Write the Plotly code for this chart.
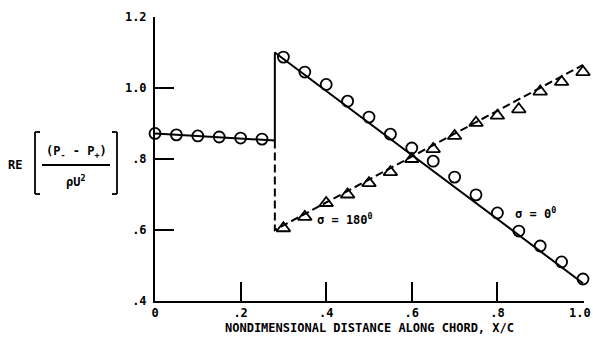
import plotly.graph_objects as go

# ---- data ----
circle_x = [0.0, 0.05, 0.10, 0.15, 0.20, 0.25,
            0.30, 0.35, 0.40, 0.45, 0.50, 0.55, 0.60, 0.65, 0.70, 0.75, 0.80, 0.85, 0.90, 0.95, 1.00]
circle_y = [0.872, 0.868, 0.865, 0.862, 0.859, 0.856,
            1.087, 1.045, 1.010, 0.963, 0.918, 0.870, 0.831, 0.794, 0.749, 0.699, 0.648, 0.597, 0.555, 0.510, 0.462]

tri_x = [0.30, 0.35, 0.40, 0.45, 0.50, 0.55, 0.60, 0.65, 0.70, 0.75, 0.80, 0.85, 0.90, 0.95, 1.00]
tri_y = [0.605, 0.637, 0.676, 0.700, 0.732, 0.763, 0.800, 0.828, 0.865, 0.902, 0.922, 0.940, 0.990, 1.017, 1.045]

solid_x = [0.0, 0.28, 0.28, 1.0]
solid_y = [0.872, 0.852, 1.100, 0.450]

dash_x = [0.28, 0.28, 1.0]
dash_y = [0.852, 0.600, 1.065]

x_ticks = [0, 0.2, 0.4, 0.6, 0.8, 1.0]
x_ticktext = ["0", ".2", ".4", ".6", ".8", "1.0"]
y_ticks = [0.4, 0.6, 0.8, 1.0, 1.2]
y_ticktext = [".4", ".6", ".8", "1.0", "1.2"]

FONT = "DejaVu Sans Mono"
W, H = 593, 345
L, R, T, B = 155, 9, 17, 44
PW, PH = W - L - R, H - T - B
X_MAX = 1.0 + 1.0 / 428  # one pixel past 1.0 so the 1.0 tick is kept


def px(x):  # page pixel -> paper
    return (x - L) / PW


def py(y):
    return (H - B - y) / PH


def bold(s):
    return "<b>" + s + "</b>"


fig = go.Figure()
fig.add_trace(go.Scatter(x=solid_x, y=solid_y, mode="lines",
                         line=dict(color="black", width=2), showlegend=False, hoverinfo="skip"))
fig.add_trace(go.Scatter(x=dash_x, y=dash_y, mode="lines",
                         line=dict(color="black", width=2, dash="8px,4px"), showlegend=False, hoverinfo="skip"))
fig.add_trace(go.Scatter(x=circle_x, y=circle_y, mode="markers",
                         marker=dict(symbol="circle-open", size=11, color="black", line=dict(width=1.8)),
                         showlegend=False, cliponaxis=False))
fig.add_trace(go.Scatter(x=tri_x, y=tri_y, mode="markers",
                         marker=dict(symbol="triangle-up-open", size=12, color="black", line=dict(width=1.8)),
                         showlegend=False, cliponaxis=False))

axis_common = dict(showline=True, linecolor="black", linewidth=2, ticks="inside", ticklen=19,
                   tickwidth=2, tickcolor="black", showgrid=False, zeroline=False,
                   tickfont=dict(family=FONT, size=12, color="black"), fixedrange=True,
                   ticklabeloverflow="allow", automargin=False)

# last x tick label is drawn as an annotation so it is not clipped at the page edge
x_labels_axis = [bold(t) for t in x_ticktext[:-1]] + [""]
fig.update_xaxes(range=[0, X_MAX], tickvals=x_ticks, ticktext=x_labels_axis,
                 title=dict(text=bold("NONDIMENSIONAL DISTANCE ALONG CHORD, X/C"),
                            font=dict(family=FONT, size=12, color="black"), standoff=4),
                 **axis_common)
fig.update_yaxes(range=[0.4, 1.2], tickvals=y_ticks, ticktext=[bold(t) for t in y_ticktext],
                 ticklabelstandoff=4, **axis_common)

annotations = [
    dict(x=0.445, y=0.631, xref="x", yref="y", text=bold("σ = 180<sup>0</sup>")),
    dict(x=0.890, y=0.648, xref="x", yref="y", text=bold("σ = 0<sup>0</sup>")),
    dict(x=px(15), y=py(165), xref="paper", yref="paper", text=bold("RE")),
    dict(x=px(76), y=py(152), xref="paper", yref="paper", text=bold("(P<sub>-</sub> - P<sub>+</sub>)")),
    dict(x=px(76), y=py(181), xref="paper", yref="paper", text=bold("ρU<sup>2</sup>")),
]
for a in annotations:
    a.update(showarrow=False, font=dict(family=FONT, size=12, color="black"),
             xanchor="center", yanchor="middle")
annotations.append(dict(x=px(593), y=py(313), xref="paper", yref="paper", text=bold(x_ticktext[-1]),
                        showarrow=False, font=dict(family=FONT, size=12, color="black"),
                        xanchor="right", yanchor="middle"))
fig.update_layout(annotations=annotations)

shape_line = dict(color="black", width=1.8)
shapes = [
    # fraction bar
    dict(type="line", xref="paper", yref="paper", x0=px(42), x1=px(110), y0=py(165), y1=py(165), line=shape_line),
    # left bracket
    dict(type="line", xref="paper", yref="paper", x0=px(35), x1=px(35), y0=py(132), y1=py(194), line=shape_line),
    dict(type="line", xref="paper", yref="paper", x0=px(35), x1=px(40), y0=py(132), y1=py(132), line=shape_line),
    dict(type="line", xref="paper", yref="paper", x0=px(35), x1=px(40), y0=py(194), y1=py(194), line=shape_line),
    # right bracket
    dict(type="line", xref="paper", yref="paper", x0=px(117), x1=px(117), y0=py(132), y1=py(194), line=shape_line),
    dict(type="line", xref="paper", yref="paper", x0=px(112), x1=px(117), y0=py(132), y1=py(132), line=shape_line),
    dict(type="line", xref="paper", yref="paper", x0=px(112), x1=px(117), y0=py(194), y1=py(194), line=shape_line),
]
fig.update_layout(shapes=shapes)

fig.update_layout(width=W, height=H, margin=dict(l=L, r=R, t=T, b=B),
                  paper_bgcolor="white", plot_bgcolor="white", showlegend=False)

fig.write_html("out.html",
               config={"displayModeBar": False},
               post_script="document.body.style.margin='0';document.body.style.overflow='hidden';"
                           "document.documentElement.style.overflow='hidden';")
